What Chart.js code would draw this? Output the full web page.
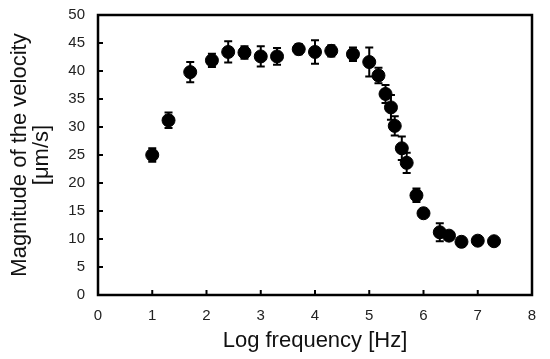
<!DOCTYPE html>
<html><head><meta charset="utf-8">
<script src="https://cdn.jsdelivr.net/npm/chart.js@4/dist/chart.umd.min.js"></script>
<style>html,body{margin:0;padding:0;background:#fff}#wrap{width:550px;height:359px}</style>
</head><body><div id="wrap"><canvas id="c" width="550" height="359"></canvas></div>
<script>
const logFreq = [1.0,1.3,1.7,2.1,2.4,2.7,3.0,3.3,3.7,4.0,4.3,4.7,5.0,5.17,5.3,5.4,5.47,5.6,5.69,5.87,6.0,6.3,6.47,6.7,7.0,7.3];
const velocity = [25.0,31.2,39.8,41.9,43.4,43.3,42.6,42.6,43.9,43.4,43.6,43.0,41.6,39.2,35.9,33.5,30.2,26.2,23.6,17.8,14.6,11.2,10.6,9.5,9.7,9.6];
const velocityErr = [1.2,1.4,1.8,1.2,1.9,1.1,1.8,1.5,0.9,2.1,1.0,1.2,2.6,1.4,1.6,2.2,1.7,2.1,1.8,1.2,0.6,1.6,0.5,0.5,0.4,0.4];
const xTicks = [0,1,2,3,4,5,6,7,8];
const yTicks = [0,5,10,15,20,25,30,35,40,45,50];

const framePlugin = {
  id:'frame',
  afterDatasetsDraw(chart){
    const {ctx, chartArea:a, scales:{x,y}} = chart;
    ctx.save();
    ctx.strokeStyle='#000'; ctx.lineWidth=2;
    logFreq.forEach((v,i)=>{
      const px=x.getPixelForValue(v);
      const top=y.getPixelForValue(velocity[i]+velocityErr[i]);
      const bot=y.getPixelForValue(velocity[i]-velocityErr[i]);
      ctx.beginPath();
      ctx.moveTo(px,top);ctx.lineTo(px,bot);
      ctx.moveTo(px-4,top);ctx.lineTo(px+4,top);
      ctx.moveTo(px-4,bot);ctx.lineTo(px+4,bot);
      ctx.stroke();
    });
    ctx.lineWidth=2;
    xTicks.forEach(t=>{const px=x.getPixelForValue(t);ctx.beginPath();ctx.moveTo(px,a.bottom);ctx.lineTo(px,a.bottom-5);ctx.stroke();});
    yTicks.forEach(t=>{const py=y.getPixelForValue(t);ctx.beginPath();ctx.moveTo(a.left,py);ctx.lineTo(a.left+5,py);ctx.stroke();});
    ctx.lineWidth=2.5;
    ctx.strokeRect(a.left,a.top,a.right-a.left,a.bottom-a.top);
    ctx.restore();
  }
};

new Chart(document.getElementById('c'),{
  type:'scatter',
  data:{datasets:[{
    data:logFreq.map((v,i)=>({x:v,y:velocity[i]})),
    backgroundColor:'#000',borderColor:'#000',pointRadius:6.5,pointHoverRadius:6.5
  }]},
  options:{
    responsive:false,animation:false,
    layout:{padding:{left:0,right:18,top:15,bottom:0}},
    plugins:{legend:{display:false},tooltip:{enabled:false}},
    scales:{
      x:{type:'linear',min:0,max:8,
        afterFit(s){s.height=64;s.paddingLeft=0;s.paddingRight=0;},
        afterBuildTicks(s){s.ticks=xTicks.map(v=>({value:v}));},
        grid:{display:false,drawTicks:false},border:{display:false},
        ticks:{color:'#222',font:{family:'Liberation Sans',size:15},padding:12,maxRotation:0},
        title:{display:true,text:'Log frequency [Hz]',color:'#111',font:{family:'Liberation Sans',size:22},padding:{top:0,bottom:5}}
      },
      y:{type:'linear',min:0,max:50,
        afterFit(s){s.width=98;s.paddingTop=0;s.paddingBottom=0;},
        afterBuildTicks(s){s.ticks=yTicks.map(v=>({value:v}));},
        grid:{display:false,drawTicks:false},border:{display:false},
        ticks:{color:'#222',font:{family:'Liberation Sans',size:15},padding:13},
        title:{display:true,text:['Magnitude of the velocity','[μm/s]'],color:'#111',font:{family:'Liberation Sans',size:22,lineHeight:1.0},padding:{top:9,bottom:0}}
      }
    }
  },
  plugins:[framePlugin]
});
</script></body></html>
